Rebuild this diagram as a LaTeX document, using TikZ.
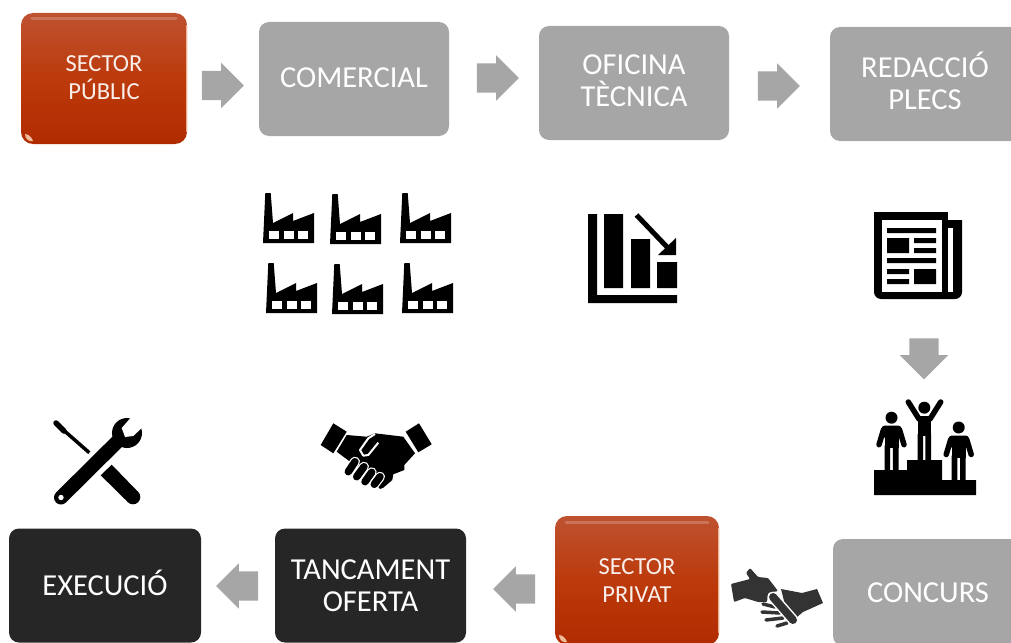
\documentclass[tikz,border=0pt]{standalone}
\usepackage{fontspec}
\setmainfont{Carlito}
\usetikzlibrary{shapes.arrows}
\definecolor{boxgray}{HTML}{A6A6A6}
\definecolor{boxdark}{HTML}{262626}
\definecolor{redtop}{HTML}{BE5230}
\definecolor{redmid}{HTML}{BC3A0C}
\definecolor{redbot}{HTML}{B12B00}
\definecolor{iconlow}{HTML}{333333}
\tikzset{
  x=1pt,y=-1pt,
  basebox/.style={rectangle,rounded corners=10pt,inner sep=0pt,align=center,font=\fontsize{30.5}{32.5}\selectfont},
  graybox/.style={basebox,fill=boxgray,text=white,minimum width=190pt,minimum height=114pt},
  darkbox/.style={basebox,fill=boxdark,text=white,minimum width=191pt,minimum height=114pt},
  redbox/.style={basebox,rounded corners=12pt,top color=redtop,bottom color=redbot,middle color=redmid,text=white!90!redtop,font=\fontsize{24.5}{28}\selectfont},
  blockarrow/.style={single arrow,fill=boxgray,inner xsep=0pt,inner ysep=14.5pt,minimum height=42pt,single arrow head extend=8pt,single arrow head indent=0pt},
  factory/.pic={
    \fill[black] (0,50)--(2.3,0)--(7.7,0)--(10,30)--(30,20)--(30,28)--(51,20)--(51,50)--cycle;
    \foreach \wx in {6,21,35}{\fill[white] (\wx,37.5) rectangle ++(9.5,8);}
  },
  standing/.pic={
    \fill[black] (0,0) circle (6);
    \fill[black,rounded corners=3pt] (-10,8) rectangle (10,20);
    \fill[black] (-7,12) rectangle (7,30);
    \draw[black,line width=5.5pt,line cap=round,line join=round] (-8,12)--(-12.5,27) (8,12)--(12.5,27);
    \fill[black] (-7,28) rectangle (-1.4,#1) (1.4,28) rectangle (7,#1);
  },
  standing/.default=52
}
\newcommand{\glossbox}[4]{%
  \draw[white,opacity=.2,line width=3pt,line cap=round] (#1+11,#2+6)--(#3-11,#2+6);
  \draw[white!70!orange,opacity=.75,line width=1.2pt] (#3-.7,#2+12)--(#3-.7,#4-12);
  \fill[white!75!orange,opacity=.8] (#1+4,#4-10) .. controls (#1+8,#4-10) and (#1+11,#4-6) .. (#1+12,#4-3) .. controls (#1+8,#4-2) and (#1+4,#4-5) .. cycle;
}
\begin{document}
\begin{tikzpicture}
\path[use as bounding box] (0,0) rectangle (1011,642);
\clip (0,0) rectangle (1011,642);

% boxes
\node[redbox,minimum width=166pt,minimum height=131pt,text depth=2pt] (publicbox) at (104,78.5) {SECTOR\\PÚBLIC};
\glossbox{21}{13}{187}{144}
\node[graybox,text depth=2pt] (comercial) at (354,79) {COMERCIAL};
\node[graybox,text depth=5pt] (oficina) at (634,83) {OFICINA\\TÈCNICA};
\node[graybox,text depth=6pt] (redaccio) at (925,84) {REDACCIÓ\\PLECS};
\node[graybox,minimum height=107pt] (concurs) at (928,592.5) {CONCURS};
\node[redbox,minimum width=164pt,minimum height=129pt] (privat) at (637,580.5) {SECTOR\\PRIVAT};
\glossbox{555}{516}{719}{645}
\node[darkbox] (tancament) at (370.5,585.5) {TANCAMENT\\OFERTA};
\node[darkbox,minimum width=192pt,text depth=6pt] (execucio) at (105,585.5) {EXECUCIÓ};

% block arrows
\node[blockarrow] (a1) at (215.5,85.5) {};
\node[blockarrow] (a2) at (490.5,78) {};
\node[blockarrow] (a3) at (771.5,86) {};
\node[blockarrow,rotate=-90,minimum height=41pt,single arrow head extend=9.5pt] (a4) at (924,351.5) {};
\node[blockarrow,rotate=180] (a5) at (521.5,589) {};
\node[blockarrow,rotate=180] (a6) at (244.5,586) {};

% factories
\path (263,193) pic {factory} (330,194) pic {factory} (400,193) pic {factory}
      (266,263) pic {factory} (332,264) pic {factory} (402,263) pic {factory};

% chart
\fill[black] (588,214) rectangle (597,295) (588,295) rectangle (677,303);
\fill[black] (604,214) rectangle (623,288) (631,239) rectangle (650,288) (657,262) rectangle (677,288);
\draw[black,line width=5pt] (636.5,215)--(667,247);
\fill[black] (676,238)--(676,255)--(658,255)--cycle;

% newspaper
\fill[black,rounded corners=7pt] (874,200)--(874,299)--(962,299)--(962,200)--cycle;
\fill[white] (860,190) rectangle (980,212);
\fill[white] (948,212) rectangle (970,220);
\fill[white] (882,220) rectangle (942,292);
\fill[white] (948,228) rectangle (953,292);
\fill[black] (887,228) rectangle (936,233) (887,238) rectangle (909,253) (914,238) rectangle (936,243)
  (914,248) rectangle (936,253) (887,258) rectangle (936,263) (887,269) rectangle (909,274)
  (887,279) rectangle (909,284) (914,269) rectangle (936,284);

% podium
\fill[black] (874,495)--(874,470)--(907,470)--(907,460)--(942,460)--(942,480)--(976,480)--(976,495)--cycle;
\path (891.5,417.7) pic {standing=53} (958.7,427.5) pic {standing=53};
\fill[black] (924.3,407.7) circle (6);
\draw[black,line width=5.5pt,line cap=round,line join=round] (908.3,402)--(919,419) (940.7,402)--(930,419);
\fill[black] (917.5,416) rectangle (931,436);
\fill[black] (917.5,434) rectangle (923.2,460) (925.4,434) rectangle (931,460);

% tools
\draw[black,line width=5.5pt,line cap=round] (56,423)--(64,431);
\draw[black,line width=3.5pt] (60,427)--(89.3,452.7);
\fill[black] (100.7,475.3)--(111.7,464.7)--(138,491.8)--(127.8,502)--cycle;
\fill[black] (133,497) circle (7.3);
\draw[black,line width=14pt,line cap=round] (61,497.5)--(122,437);
\fill[black] (127,433) circle (15);
\fill[white] (135,410)--(129.3,419.3)--(121.7,428)--(125,437)--(133.3,436)--(141,428.7)--(150,424)--(145,412)--cycle;
\fill[white] (61,497.5) circle (2.7);

% handshake
\fill[black] (333.3,423.3)--(346.7,431.7)--(333.3,453.3)--(320.7,445)--cycle;
\fill[black] (419,423.3)--(405.7,431.7)--(418.3,452.3)--(431.7,444.3)--cycle;
\fill[black] (346.7,435)--(366.7,436.7)--(375,433.3)--(403.3,436.7)--(415,453.3)--(404.3,465)--(404.3,470)--(393.3,474.3)--(392.3,480)--(383.3,487.7)--(380,489)--(368,475)--(336.7,451.7)--cycle;
\foreach \pa/\pb/\pc/\pd in {348.3/471.7/355/461.7,356.7/476.7/364/466.7,365/481.7/371.7/472.3,374.3/484.3/380/476.7}{
  \draw[white,line width=10pt,line cap=round] (\pa,\pb)--(\pc,\pd);
  \draw[black,line width=7.5pt,line cap=round] (\pa,\pb)--(\pc,\pd);
}
\draw[white,line width=2pt,line join=round] (378.3,442.7)--(368.3,455)--(363.3,455.7)--(360,450)--(368.3,438.3)--(375,434);

% hand-over icon
\fill[iconlow,rounded corners=1pt] (731,584)--(750,579)--(746,573)--(750,568)--(758,577)--(768,578)--(778,591)--(768,593)--(767,602)--(758,602)--(745,598)--(734,602)--cycle;
\fill[iconlow] (781,589)--(802,593)--(817,589)--(823,603)--(803,612)--(797,617)--(785,605)--cycle;
\foreach \pa/\pb/\pc/\pd in {763/604/775/607,762/612/780/613,766/620/783/618,777/626/787/623}{
  \draw[iconlow,line width=3.5pt,line cap=round] (\pa,\pb)--(\pc,\pd);
}
\draw[white,line width=11pt,line cap=round] (773,597)--(793,620);
\draw[iconlow,line width=8pt,line cap=round] (773,597)--(793,620);
\end{tikzpicture}
\end{document}
